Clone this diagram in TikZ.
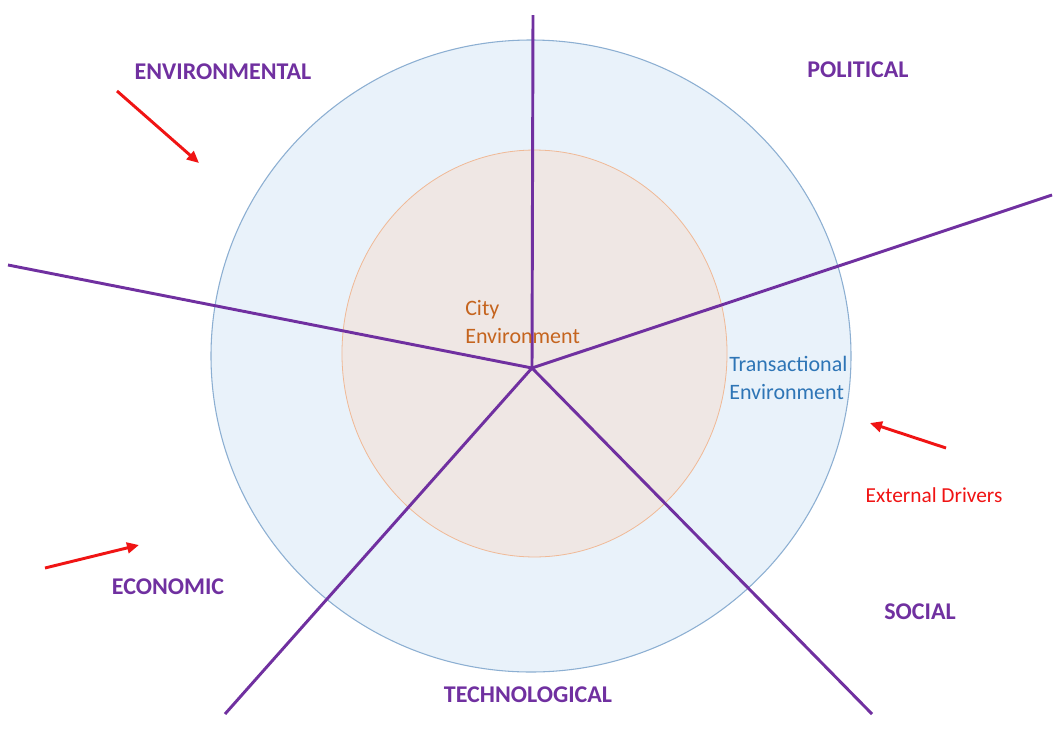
\documentclass[tikz,border=0pt]{standalone}
\usepackage{fontspec}
\setmainfont{Carlito}
\usetikzlibrary{arrows.meta}
\definecolor{purp}{RGB}{112,48,160}
\definecolor{outerfill}{RGB}{233,242,250}
\definecolor{outerline}{RGB}{140,175,210}
\definecolor{innerfill}{RGB}{239,231,228}
\definecolor{innerline}{RGB}{240,185,150}
\definecolor{cityc}{RGB}{197,100,30}
\definecolor{transc}{RGB}{46,117,182}
\definecolor{redc}{RGB}{240,20,20}
\tikzset{
  spoke/.style={draw=purp, line width=2.2pt},
  cat/.style={text=purp, font=\bfseries\fontsize{18}{21}\selectfont, inner sep=0pt},
  driver/.style={draw=redc, line width=2.2pt, -{Triangle[length=9pt,width=8pt]}},
  lbl/.style={font=\fontsize{16.5}{20.5}\selectfont, align=left, inner sep=0pt, anchor=west}
}
\begin{document}
\begin{tikzpicture}[x=0.75pt,y=-0.75pt]
\useasboundingbox (0,0) rectangle (1064,729);
\fill[white] (0,0) rectangle (1064,729);
% circles
\draw[draw=outerline, fill=outerfill, line width=0.8pt] (531,356) ellipse [x radius=240pt, y radius=237pt];
\draw[draw=innerline, fill=innerfill, line width=0.6pt] (534.5,353.5) ellipse [x radius=144.4pt, y radius=152.6pt];
% spokes
\coordinate (c) at (532,368);
\coordinate (pt) at (533,15);
\coordinate (pur) at (1052,195);
\coordinate (pl) at (8,265);
\coordinate (pll) at (225,714);
\coordinate (plr) at (872,714);
\draw[spoke] (c) -- (pt);
\draw[spoke] (c) -- (pur);
\draw[spoke] (c) -- (pl);
\draw[spoke] (c) -- (pll);
\draw[spoke] (c) -- (plr);
% labels
\node[cat] (env) at (223,72) {ENVIRONMENTAL};
\node[cat] (pol) at (858,70) {POLITICAL};
\node[cat] (eco) at (168,587) {ECONOMIC};
\node[cat] (soc) at (920,612) {SOCIAL};
\node[cat] (tec) at (528,695) {TECHNOLOGICAL};
\node[lbl, text=cityc] (city) at (465,322) {City\\Environment};
\node[lbl, text=transc] (trans) at (729,378) {Transactional\\Environment};
\node[text=redc, font=\fontsize{16}{19}\selectfont, inner sep=0pt] (ext) at (934,495) {External Drivers};
% arrows
\coordinate (a1s) at (117,91); \coordinate (a1e) at (199,163);
\coordinate (a2s) at (45,568); \coordinate (a2e) at (139,545);
\coordinate (a3s) at (946,448); \coordinate (a3e) at (870,423);
\draw[driver] (a1s) -- (a1e);
\draw[driver] (a2s) -- (a2e);
\draw[driver] (a3s) -- (a3e);
\end{tikzpicture}
\end{document}
